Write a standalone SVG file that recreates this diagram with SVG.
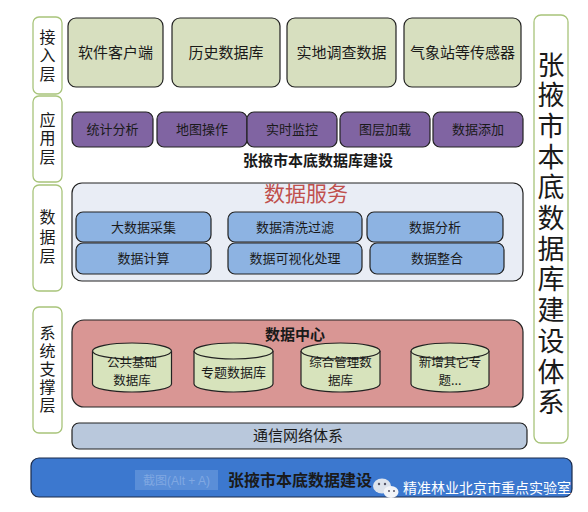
<svg xmlns="http://www.w3.org/2000/svg" width="588" height="512" viewBox="0 0 588 512">
<style>
text{font-family:"Noto Sans CJK SC","Noto Sans",sans-serif;text-anchor:middle;fill:#1a1a1a}
.lbl{fill:#fff;stroke:#a8c47a;stroke-width:1.3}
.acc{fill:#d7dfbf;stroke:#222;stroke-width:1.2}
.app{fill:#8064a2;stroke:#222;stroke-width:1.2}
.svc{fill:#8db3e2;stroke:#222;stroke-width:1.2}
.cyl{fill:#d7e3bc;stroke:#222;stroke-width:1.2}
.t15{font-size:15px}
.t13{font-size:13px}
.t12{font-size:12.5px}
.vt{writing-mode:vertical-rl;font-size:16px;letter-spacing:2.5px}
.b{font-weight:bold}
</style>
<rect width="588" height="512" fill="#fff"/>

<g id="label-access"><rect class="lbl" x="33" y="17" width="29" height="77" rx="6"/>
<text class="vt" x="47.5" y="56.5">接入层</text></g>
<g id="label-app"><rect class="lbl" x="33" y="96" width="29" height="86" rx="6"/>
<text class="vt" x="47.5" y="139.5">应用层</text></g>
<g id="label-data"><rect class="lbl" x="33" y="185" width="29" height="106" rx="6"/>
<text class="vt" x="47.5" y="238.5" style="letter-spacing:3.5px">数据层</text></g>
<g id="label-sys"><rect class="lbl" x="33" y="307" width="29" height="126" rx="6"/>
<text class="vt" x="47.5" y="370" style="letter-spacing:2px">系统支撑层</text></g>

<g id="right-title"><rect class="lbl" x="534" y="15" width="34" height="428" rx="7"/>
<text x="551" y="235" style="writing-mode:vertical-rl;font-size:27px;letter-spacing:3.7px">张掖市本底数据库建设体系</text></g>

<g id="access-1"><rect class="acc" x="68" y="18" width="95" height="69" rx="8"/><text class="t15" x="115.5" y="58">软件客户端</text></g>
<g id="access-2"><rect class="acc" x="172" y="18" width="108" height="69" rx="8"/><text class="t15" x="226" y="58">历史数据库</text></g>
<g id="access-3"><rect class="acc" x="287" y="18" width="109" height="69" rx="8"/><text class="t15" x="341.5" y="58">实地调查数据</text></g>
<g id="access-4"><rect class="acc" x="404" y="18" width="117" height="69" rx="8"/><text class="t15" x="462.5" y="58">气象站等传感器</text></g>

<g id="app-1"><rect class="app" x="72" y="112" width="81" height="35" rx="7"/><text class="t13" x="112.5" y="134">统计分析</text></g>
<g id="app-2"><rect class="app" x="157" y="112" width="90" height="35" rx="7"/><text class="t13" x="202" y="134">地图操作</text></g>
<g id="app-3"><rect class="app" x="247" y="112" width="90" height="35" rx="7"/><text class="t13" x="292" y="134">实时监控</text></g>
<g id="app-4"><rect class="app" x="340" y="112" width="90" height="35" rx="7"/><text class="t13" x="385" y="134">图层加载</text></g>
<g id="app-5"><rect class="app" x="433" y="112" width="90" height="35" rx="7"/><text class="t13" x="478" y="134">数据添加</text></g>
<g id="app-caption"><text class="t15 b" x="318" y="166">张掖市本底数据库建设</text></g>

<g id="data-service"><rect x="72" y="183" width="451" height="98" rx="10" fill="#e9edf5" stroke="#222" stroke-width="1.2"/>
<text x="306" y="201" style="font-size:21px;fill:#c0504d">数据服务</text></g>
<g id="svc-1"><rect class="svc" x="76" y="212" width="135" height="30" rx="7"/><text class="t13" x="143.5" y="232">大数据采集</text></g>
<g id="svc-2"><rect class="svc" x="228" y="212" width="134" height="30" rx="7"/><text class="t13" x="295" y="232">数据清洗过滤</text></g>
<g id="svc-3"><rect class="svc" x="367" y="212" width="136" height="30" rx="7"/><text class="t13" x="435" y="232">数据分析</text></g>
<g id="svc-4"><rect class="svc" x="76" y="243" width="135" height="31" rx="7"/><text class="t13" x="143.5" y="263">数据计算</text></g>
<g id="svc-5"><rect class="svc" x="228" y="243" width="134" height="31" rx="7"/><text class="t13" x="295" y="263">数据可视化处理</text></g>
<g id="svc-6"><rect class="svc" x="370" y="243" width="134" height="31" rx="7"/><text class="t13" x="437" y="263">数据整合</text></g>

<g id="data-center"><rect x="72" y="320" width="451" height="87" rx="12" fill="#d99694" stroke="#222" stroke-width="1.2"/>
<text class="t15 b" x="295" y="340">数据中心</text></g>
<g id="db-1"><path class="cyl" d="M92.5 351 v33 a39.5 8 0 0 0 79 0 v-33"/><ellipse class="cyl" cx="132" cy="351" rx="39.5" ry="8"/>
<text class="t12" x="132" y="366.5">公共基础<tspan x="132" dy="18.2">数据库</tspan></text></g>
<g id="db-2"><path class="cyl" d="M194 351 v33 a39.5 8 0 0 0 79 0 v-33"/><ellipse class="cyl" cx="233.5" cy="351" rx="39.5" ry="8"/>
<text class="t13" x="233.5" y="377">专题数据库</text></g>
<g id="db-3"><path class="cyl" d="M301 351 v33 a39.5 8 0 0 0 79 0 v-33"/><ellipse class="cyl" cx="340.5" cy="351" rx="39.5" ry="8"/>
<text class="t12" x="340.5" y="366.5">综合管理数<tspan x="340.5" dy="18.2">据库</tspan></text></g>
<g id="db-4"><path class="cyl" d="M411 351 v33 a39 8 0 0 0 78 0 v-33"/><ellipse class="cyl" cx="450" cy="351" rx="39" ry="8"/>
<text class="t12" x="450" y="366.5">新增其它专<tspan x="450" dy="18.2">题...</tspan></text></g>

<g id="network"><rect x="72" y="423" width="455" height="26" rx="7" fill="#b9c8dc" stroke="#222" stroke-width="1.2"/>
<text class="t15" x="298" y="441">通信网络体系</text></g>

<g id="base"><rect x="31" y="458" width="541" height="39" rx="8" fill="#3c78cf" stroke="#1a2a4a" stroke-width="1.2"/>
<rect x="135" y="470" width="83" height="20" fill="#5a8ed8"/>
<text x="176.5" y="485" style="font-size:12px;fill:#80a8e2;font-family:'Liberation Sans','Noto Sans CJK SC',sans-serif">截图(Alt + A)</text>
<text class="b" x="300" y="486" style="font-size:16px">张掖市本底数据建设</text>
<ellipse cx="382" cy="486" rx="9" ry="7.5" fill="#dde3ec"/>
<ellipse cx="391" cy="492" rx="7.5" ry="6" fill="#f2f4f8"/>
<circle cx="379" cy="484" r="1.2" fill="#556"/><circle cx="385" cy="484" r="1.2" fill="#556"/>
<circle cx="389" cy="491" r="1" fill="#556"/><circle cx="394" cy="491" r="1" fill="#556"/>
<text x="487" y="493" style="font-size:14px;fill:#fff">精准林业北京市重点实验室</text></g>
</svg>
